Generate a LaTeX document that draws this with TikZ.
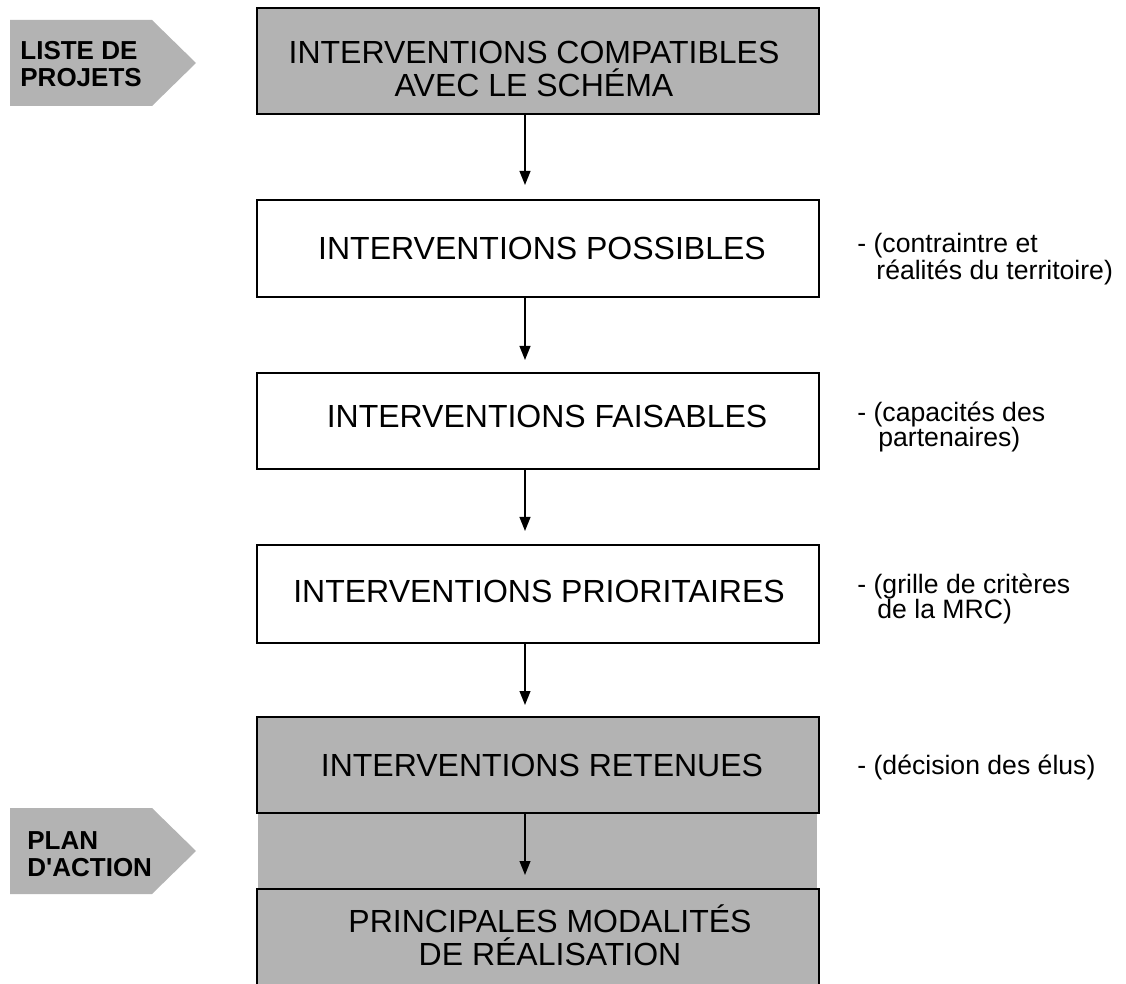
\documentclass[tikz,border=0pt]{standalone}
\usepackage{fontspec}
\setmainfont{Liberation Sans}
\usetikzlibrary{arrows.meta}
\definecolor{boxgray}{HTML}{B3B3B3}
\begin{document}
\begin{tikzpicture}[x=0.5pt,y=-0.5pt,
  box/.style={draw=black, line width=1pt, rectangle, minimum width=281pt, inner sep=0pt},
  boxtext/.style={inner sep=0pt, align=center, font=\fontsize{16}{16.5}\selectfont},
  graybox/.style={box, fill=boxgray},
  whitebox/.style={box, fill=white},
  side/.style={anchor=west, inner sep=0pt, align=left, font=\fontsize{13.3}{12.5}\selectfont},
  tagtext/.style={anchor=west, inner sep=0pt, align=left, font=\bfseries\fontsize{13}{13.5}\selectfont},
  tagshape/.style={fill=boxgray, draw=none},
  arr/.style={line width=0.85pt, -{Triangle[width=5.4pt,length=7pt]}}]
\useasboundingbox (0,0) rectangle (1126,984);

% side tags
\fill[tagshape] (10,20) -- (152,20) -- (196,63) -- (152,106) -- (10,106) -- cycle;
\node[tagtext] (liste) at (20,64) {LISTE DE\\PROJETS};
\fill[tagshape] (10,808) -- (152,808) -- (196,851) -- (152,894) -- (10,894) -- cycle;
\node[tagtext] (plan) at (27,854) {PLAN\\D\textquotesingle ACTION};

% gray band between last two boxes
\fill[boxgray] (258,812) rectangle (817,890);

% boxes
\node[graybox, minimum height=53pt,
  label={[boxtext, xshift=-2pt, yshift=-3.75pt]center:{INTERVENTIONS COMPATIBLES\\AVEC LE SCHÉMA}}] (b1) at (538,61) {};
\node[whitebox, minimum height=48.5pt,
  label={[boxtext, xshift=2pt]center:{INTERVENTIONS POSSIBLES}}] (b2) at (538,248.5) {};
\node[whitebox, minimum height=48pt,
  label={[boxtext, xshift=4.5pt, yshift=2.5pt]center:{INTERVENTIONS FAISABLES}}] (b3) at (538,421) {};
\node[whitebox, minimum height=49pt,
  label={[boxtext, xshift=0.5pt, yshift=1.5pt]center:{INTERVENTIONS PRIORITAIRES}}] (b4) at (538,594) {};
\node[graybox, minimum height=48pt,
  label={[boxtext, xshift=2pt]center:{INTERVENTIONS RETENUES}}] (b5) at (538,765) {};
\node[graybox, minimum height=52pt,
  label={[boxtext, xshift=6pt, yshift=3pt]center:{PRINCIPALES MODALITÉS\\DE RÉALISATION}}] (b6) at (538,941) {};

% arrow ends
\coordinate (t1) at (525,185);
\coordinate (t2) at (525,360);
\coordinate (t3) at (525,531);
\coordinate (t4) at (525,705);
\coordinate (t5) at (525,875);
\draw[arr] (b1.south -| t1) -- (t1);
\draw[arr] (b2.south -| t2) -- (t2);
\draw[arr] (b3.south -| t3) -- (t3);
\draw[arr] (b4.south -| t4) -- (t4);
\draw[arr] (b5.south -| t5) -- (t5);

% side notes
\node[side] (n2) at (857,259) {- (contraintre et\\\hspace*{9.5pt}réalités du territoire)};
\node[side] (n3) at (857,427) {- (capacités des\\\hspace*{10.5pt}partenaires)};
\node[side] (n4) at (857,599) {- (grille de critères\\\hspace*{10pt}de la MRC)};
\node[side] (n5) at (857,767) {- (décision des élus)};
\end{tikzpicture}
\end{document}
